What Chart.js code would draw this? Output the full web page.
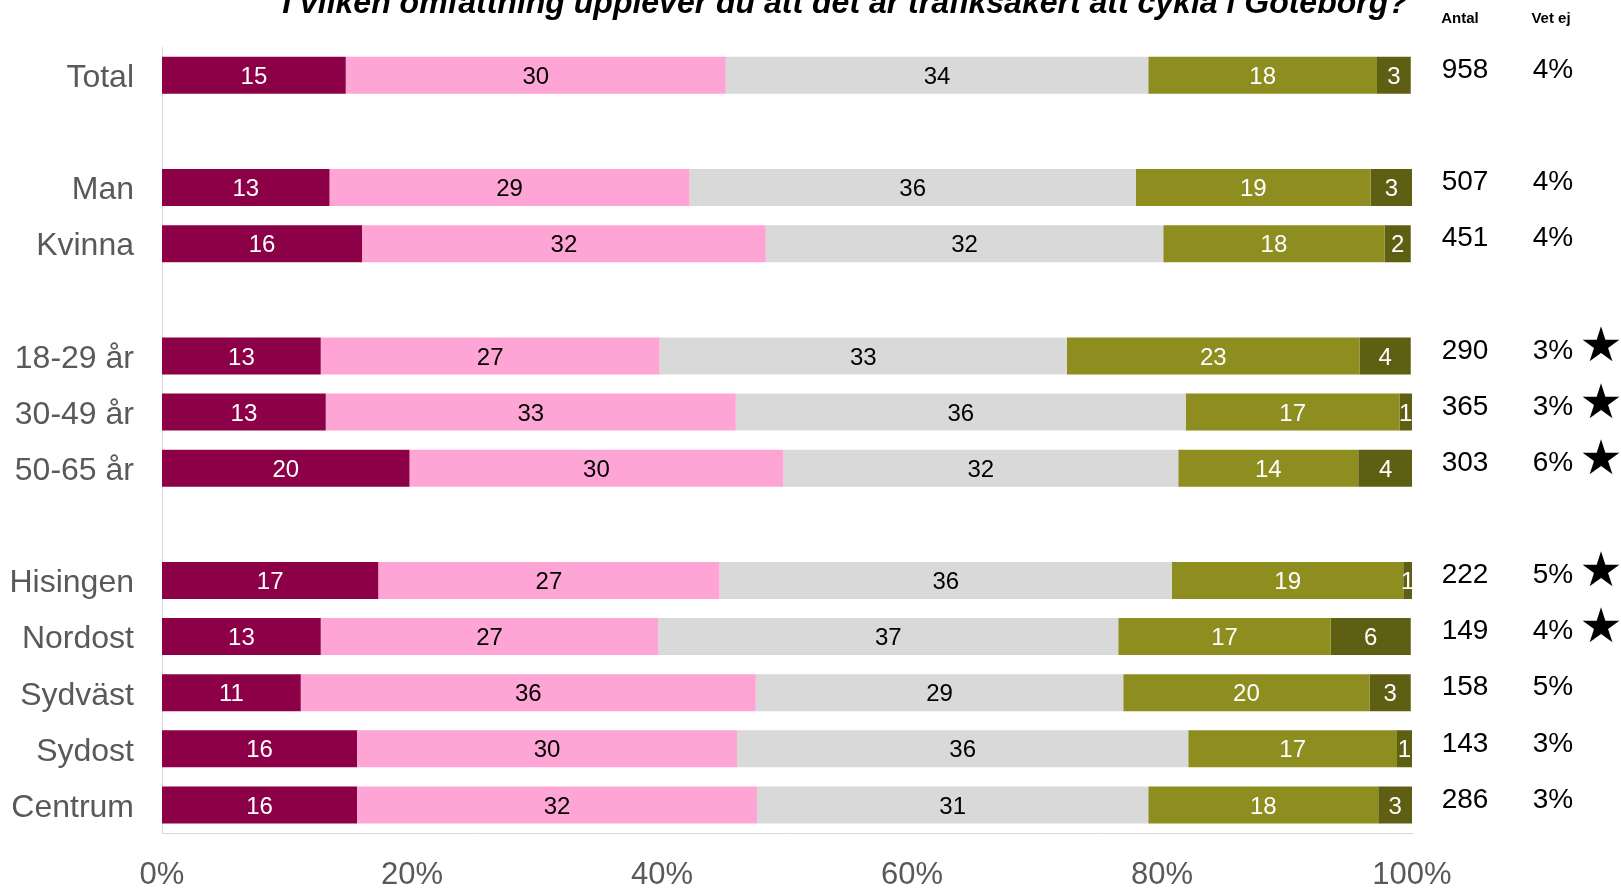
<!DOCTYPE html>
<html>
<head>
<meta charset="utf-8">
<script src="https://cdn.jsdelivr.net/npm/chart.js@4.4.1/dist/chart.umd.min.js"></script>
<style>
  html, body { margin: 0; padding: 0; background: #fff; overflow: hidden; }
</style>
</head>
<body>
<canvas id="chart" width="1621" height="888"></canvas>
<script>
const titleText = 'I vilken omfattning upplever du att det är trafiksäkert att cykla i Göteborg?';
const categories = ['Total', '', 'Man', 'Kvinna', '', '18-29 år', '30-49 år', '50-65 år', '', 'Hisingen', 'Nordost', 'Sydväst', 'Sydost', 'Centrum'];
const seriesNames = ['Inte alls', 'I liten omfattning', 'I viss omfattning', 'I stor omfattning', 'I mycket stor omfattning'];

// andelar i procent, lästa ur bilden (null = tom rad)
const s1 = [14.7, null, 13.4, 16.0, null, 12.7, 13.1, 19.8, null, 17.3, 12.7, 11.1, 15.6, 15.6];
const s2 = [30.4, null, 28.8, 32.3, null, 27.1, 32.8, 29.9, null, 27.3, 27.0, 36.4, 30.4, 32.0];
const s3 = [33.8, null, 35.7, 31.8, null, 32.6, 36.0, 31.6, null, 36.2, 36.8, 29.4, 36.1, 31.3];
const s4 = [18.3, null, 18.8, 17.7, null, 23.4, 17.1, 14.4, null, 18.5, 17.0, 19.7, 16.7, 18.4];
const s5 = [2.7, null, 3.3, 2.1, null, 4.1, 1.0, 4.4, null, 0.7, 6.4, 3.3, 1.2, 2.7];

const antal = [958, null, 507, 451, null, 290, 365, 303, null, 222, 149, 158, 143, 286];
const vetEj = [4, null, 4, 4, null, 3, 3, 6, null, 5, 4, 5, 3, 3];
const stjarna = [false, false, false, false, false, true, true, true, false, true, true, false, false, false];

const xTicks = [0, 20, 40, 60, 80, 100];

const colors = ['#8C0047', '#FFA5D5', '#D9D9D9', '#8D8D20', '#5F5F14'];
const labelColors = ['#ffffff', '#000000', '#000000', '#ffffff', '#ffffff'];
const font = "'Liberation Sans', Arial, sans-serif";

const seriesValues = [s1, s2, s3, s4, s5];

const barLabels = {
  id: 'barLabels',
  afterDatasetsDraw(chart) {
    const ctx = chart.ctx;
    ctx.save();
    ctx.font = '24px ' + font;
    ctx.textAlign = 'center';
    ctx.textBaseline = 'middle';
    chart.data.datasets.forEach((ds, i) => {
      const meta = chart.getDatasetMeta(i);
      meta.data.forEach((el, j) => {
        const v = ds.data[j];
        if (v == null) return;
        ctx.fillStyle = labelColors[i];
        ctx.fillText(Math.round(v), (el.x + el.base) / 2, el.y + 2);
      });
    });
    ctx.restore();
  }
};

const extras = {
  id: 'extras',
  afterDraw(chart) {
    const ctx = chart.ctx;
    const y = chart.scales.y;
    ctx.save();
    // titel (delvis utanför bilden)
    ctx.fillStyle = '#000';
    ctx.font = 'italic bold 32px ' + font;
    ctx.textAlign = 'center';
    ctx.textBaseline = 'alphabetic';
    ctx.fillText(titleText, 845, 13);

    ctx.font = 'bold 15px ' + font;
    ctx.textBaseline = 'middle';
    ctx.fillText('Antal', 1460, 19);
    ctx.fillText('Vet ej', 1551, 19);

    ctx.font = '28px ' + font;
    categories.forEach((c, i) => {
      if (antal[i] == null) return;
      const py = y.getPixelForValue(i);
      ctx.fillText(antal[i], 1465, py - 5);
      ctx.fillText(vetEj[i] + '%', 1553, py - 5);
      if (stjarna[i]) {
        ctx.save();
        ctx.font = "48px 'DejaVu Sans'";
        ctx.fillText('★', 1601, py - 7);
        ctx.restore();
      }
    });
    ctx.restore();
  }
};

new Chart(document.getElementById('chart'), {
  type: 'bar',
  data: {
    labels: categories,
    datasets: seriesValues.map((vals, i) => ({
      label: seriesNames[i],
      data: vals,
      backgroundColor: colors[i],
      borderWidth: 0,
      barPercentage: 0.66,
      categoryPercentage: 1
    }))
  },
  options: {
    indexAxis: 'y',
    responsive: false,
    devicePixelRatio: 1,
    animation: false,
    layout: { padding: { top: 47, right: 209, left: 0, bottom: 0 } },
    plugins: {
      legend: { display: false },
      tooltip: { enabled: false }
    },
    scales: {
      x: {
        stacked: true,
        min: 0,
        max: 100,
        afterBuildTicks(s) { s.ticks = xTicks.map(v => ({ value: v })); },
        ticks: {
          callback: v => v + '%',
          color: '#595959',
          font: { size: 31, family: font },
          padding: 24,
          maxRotation: 0
        },
        grid: { display: false, drawTicks: false },
        border: { color: '#D9D9D9', width: 1 },
        afterFit(s) { s.height = 55; }
      },
      y: {
        stacked: true,
        ticks: {
          color: '#595959',
          font: { size: 32, family: font },
          padding: 28,
          labelOffset: 3,
          autoSkip: false
        },
        grid: { display: false, drawTicks: false },
        border: { color: '#D9D9D9', width: 1 },
        afterFit(s) { s.width = 162; }
      }
    }
  },
  plugins: [barLabels, extras]
});
</script>
</body>
</html>
